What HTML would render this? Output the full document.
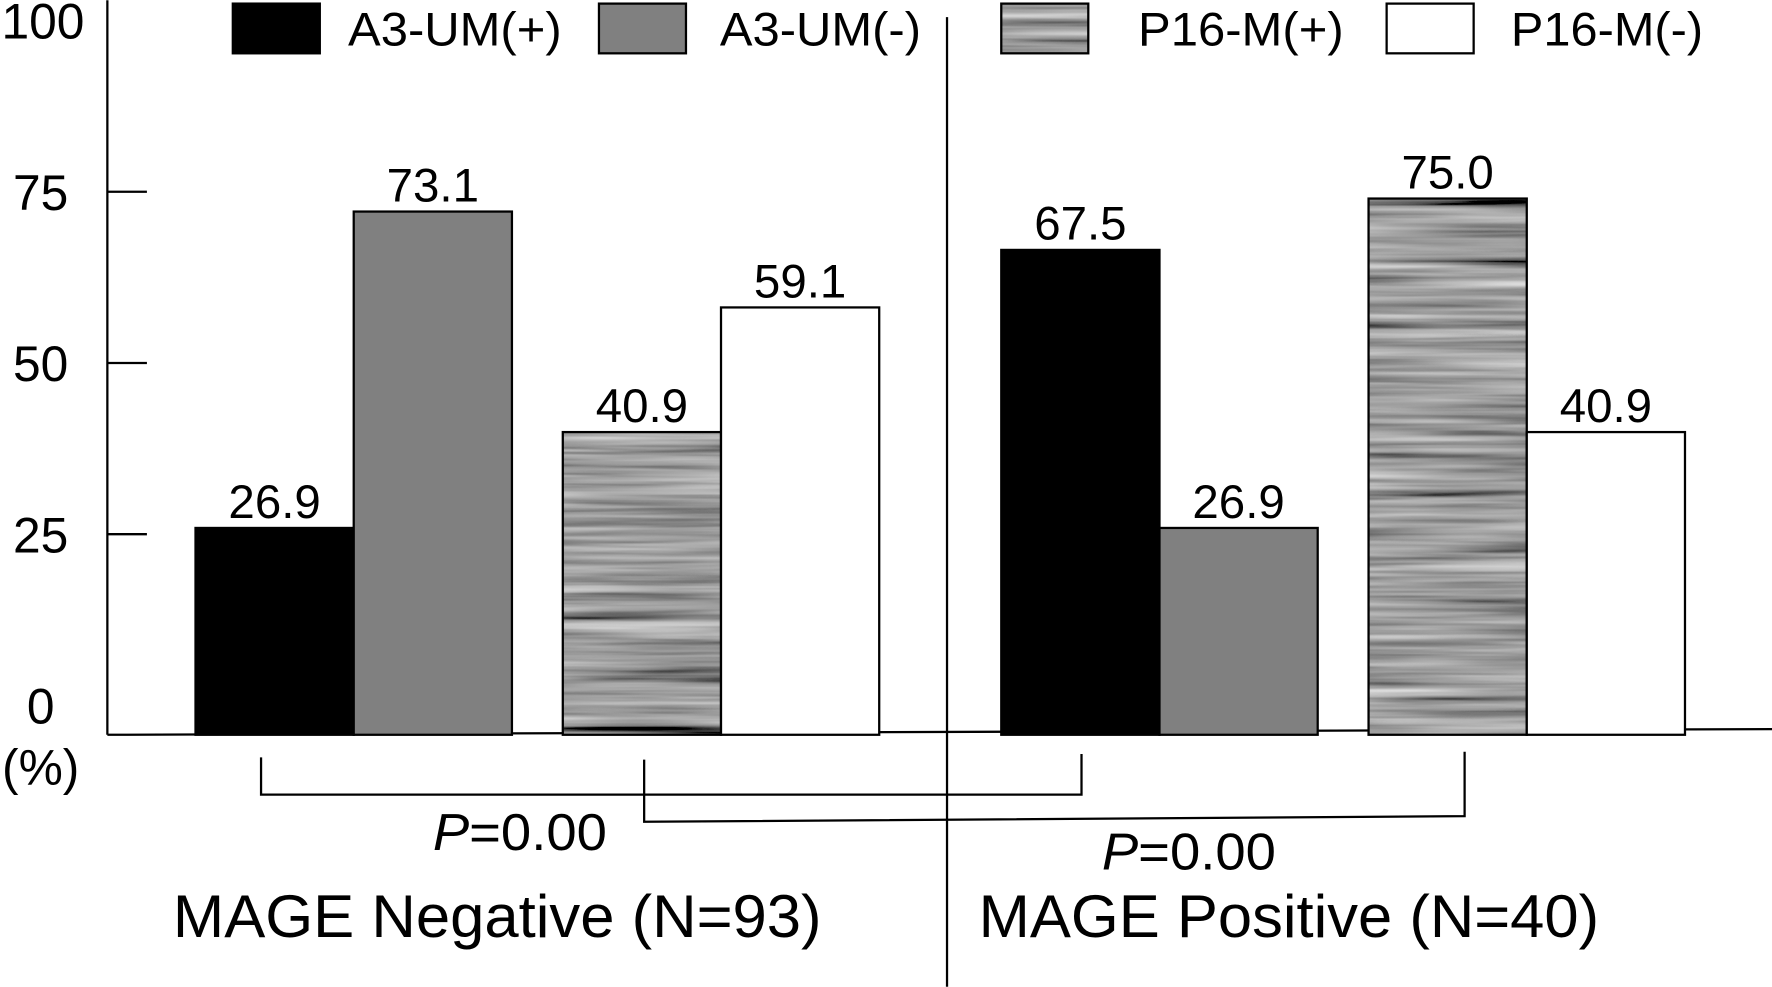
<!DOCTYPE html>
<html><head><meta charset="utf-8"><style>
html,body{margin:0;padding:0;background:#fff;}
svg{display:block;font-family:"Liberation Sans",Arial,sans-serif;}
</style></head><body>
<svg id="chart" width="1772" height="987" viewBox="0 0 1568 873" xmlns="http://www.w3.org/2000/svg">
<defs>
<filter id="wood" x="0" y="0" width="1" height="1">
<feTurbulence type="fractalNoise" baseFrequency="0.004 0.12" numOctaves="3" seed="4" result="n"/>
<feColorMatrix in="n" type="matrix" values="0.33 0.33 0.33 0 0  0.33 0.33 0.33 0 0  0.33 0.33 0.33 0 0  0 0 0 0 1" result="g"/>
<feComponentTransfer in="g" result="c"><feFuncR type="linear" slope="1.5" intercept="-0.4"/><feFuncG type="linear" slope="1.5" intercept="-0.4"/><feFuncB type="linear" slope="1.5" intercept="-0.4"/></feComponentTransfer>
<feComposite in="c" in2="SourceAlpha" operator="in"/>
</filter>
</defs>
<g id="axes"></g>
<g id="bars"></g>
<g id="legend"></g>
</svg>
<script>
const groups = ["MAGE Negative (N=93)", "MAGE Positive (N=40)"];
const seriesNames = ["A3-UM(+)", "A3-UM(-)", "P16-M(+)", "P16-M(-)"];
const valuesNeg = [26.9, 73.1, 40.9, 59.1];
const valuesPos = [67.5, 26.9, 75.0, 40.9];
const yTicks = [0, 25, 50, 75, 100];
const pLabels = ["P=0.00", "P=0.00"];

const NS = "http://www.w3.org/2000/svg";
function mk(tag, attrs, parent, text){
  const e = document.createElementNS(NS, tag);
  for (const k in attrs) e.setAttribute(k, attrs[k]);
  if (text !== undefined) e.textContent = text;
  parent.appendChild(e);
  return e;
}
const axes = document.getElementById('axes');
const barsG = document.getElementById('bars');
const legG = document.getElementById('legend');
const base = 650;
const yVal = v => 630 - v * 6.06;
const fills = ["#000", "#808080", "#888", "#fff"];
const groupStarts = [173, 886];
const barW = 140;
function barX(g, s){ return groupStarts[g] + s * barW + (s >= 2 ? 45 : 0); }

let e = mk('line', {x1:95, y1:0, x2:95, y2:base, stroke:'#000', 'stroke-width':2}, axes);


e = mk('line', {x1:95, y1:base, x2:1568, y2:645, stroke:'#000', 'stroke-width':2}, axes);


e = mk('line', {x1:838, y1:15, x2:838, y2:873, stroke:'#000', 'stroke-width':2}, axes);


yTicks.forEach(v => {
  const y = yVal(v) - 6;
  if (v > 0 && v < 100) {
    const t = mk('line', {x1:95, y1:y, x2:130, y2:y, stroke:'#000', 'stroke-width':2}, axes);
    
    
  }
  const l = mk('text', {x:v === 100 ? 38 : 36, y:y + 16, 'text-anchor':'middle', 'font-size':44}, axes, String(v));
  
  
});
e = mk('text', {x:36, y:694, 'text-anchor':'middle', 'font-size':44}, axes, "(%)");



[valuesNeg, valuesPos].forEach((vals, g) => {
  vals.forEach((v, s) => {
    const x = barX(g, s), y = yVal(v);
    const r = mk('rect', {x:x, y:y, width:barW, height:base - y, fill:fills[s], stroke:'#000', 'stroke-width':2}, barsG);
    if (s === 2) r.setAttribute('filter', 'url(#wood)');
    
    
    if (s === 2) {
      const o = mk('rect', {x:x, y:y, width:barW, height:base - y, fill:'none', stroke:'#000', 'stroke-width':2}, barsG);
      
      
    }
    const t = mk('text', {x:x + barW/2, y:y - 9, 'text-anchor':'middle', 'font-size':42}, barsG, v.toFixed(1));
    
    
  });
});

e = mk('polyline', {points:"231,670 231,703 957,703 957,667", fill:'none', stroke:'#000', 'stroke-width':2}, axes);


e = mk('polyline', {points:"570,672 570,727 1296,722 1296,665", fill:'none', stroke:'#000', 'stroke-width':2}, axes);


[[383, 752], [975, 769]].forEach((p, i) => {
  const t = mk('text', {x:p[0], y:p[1], 'font-size':46, textLength:154, lengthAdjust:'spacingAndGlyphs'}, axes);
  mk('tspan', {'font-style':'italic'}, t, "P");
  mk('tspan', {}, t, pLabels[i].slice(1));
  
  
});
[[153, 574], [866, 549]].forEach((p, i) => {
  const t = mk('text', {x:p[0], y:829, 'font-size':53, textLength:p[1], lengthAdjust:'spacingAndGlyphs'}, axes, groups[i]);
  
  
});

const legBox = [206, 530, 886, 1227];
const legText = [308, 637, 1007, 1337];
const legW = [189, 178, 182, 170];
seriesNames.forEach((n, s) => {
  const r = mk('rect', {x:legBox[s], y:3, width:77, height:44, fill:fills[s], stroke:'#000', 'stroke-width':2}, legG);
  if (s === 2) r.setAttribute('filter', 'url(#wood)');
  
  
  if (s === 2) {
    const o = mk('rect', {x:legBox[s], y:3, width:77, height:44, fill:'none', stroke:'#000', 'stroke-width':2}, legG);
    
    
  }
  const t = mk('text', {x:legText[s], y:40, 'font-size':42, textLength:legW[s], lengthAdjust:'spacingAndGlyphs'}, legG, n);
  
  
});
</script>
</body></html>
